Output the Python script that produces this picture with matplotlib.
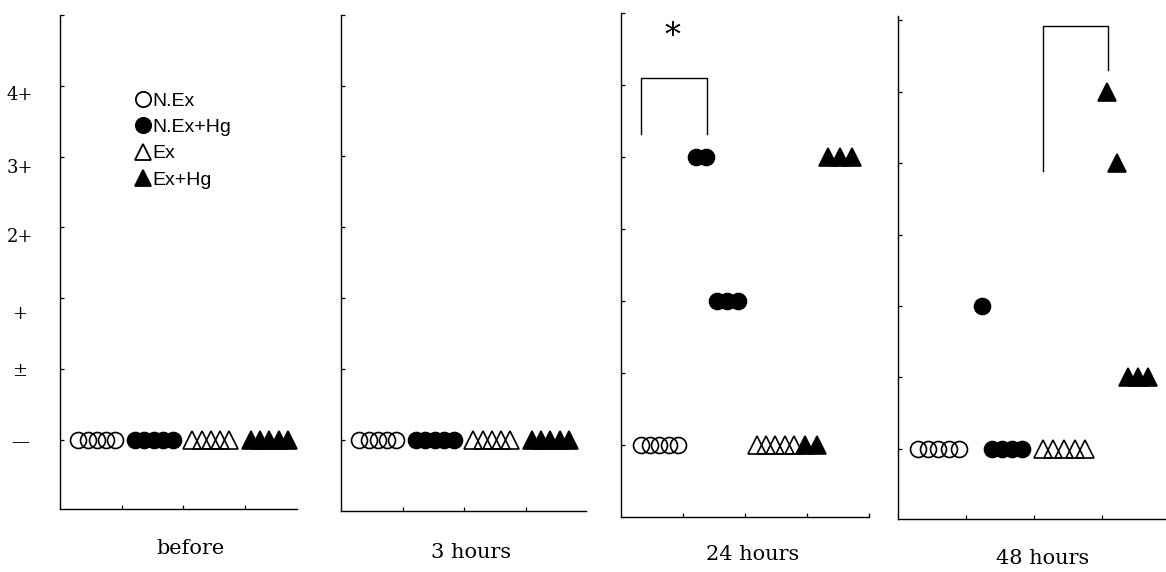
import matplotlib
matplotlib.use("Agg")
import matplotlib.pyplot as plt
from matplotlib.lines import Line2D
from matplotlib.transforms import ScaledTranslation

# ---- data -------------------------------------------------------------
time_points = ["before", "3 hours", "24 hours", "48 hours"]
groups = ["N.Ex", "N.Ex+Hg", "Ex", "Ex+Hg"]
score_labels = ["—", "±", "+", "2+", "3+", "4+"]   # grade 0 .. 5

# grade of each animal, one list per time point (left-to-right order in a group)
n_ex = [[0, 0, 0, 0, 0], [0, 0, 0, 0, 0], [0, 0, 0, 0, 0], [0, 0, 0, 0, 0]]
n_ex_hg = [[0, 0, 0, 0, 0], [0, 0, 0, 0, 0], [4, 4, 2, 2, 2], [2, 0, 0, 0, 0]]
ex = [[0, 0, 0, 0, 0], [0, 0, 0, 0, 0], [0, 0, 0, 0, 0], [0, 0, 0, 0, 0]]
ex_hg = [[0, 0, 0, 0, 0], [0, 0, 0, 0, 0], [0, 0, 4, 4, 4], [5, 4, 1, 1, 1]]

series = [n_ex, n_ex_hg, ex, ex_hg]

# ---- styles / layout --------------------------------------------------
W, H = 1166, 572
styles = [
    dict(marker="o", mfc="none", ms=11.5),
    dict(marker="o", mfc="black", ms=11.5),
    dict(marker="^", mfc="none", ms=13.5),
    dict(marker="^", mfc="black", ms=13.5),
]
# horizontal span occupied by the animals of each group (in group units)
default_span = [(0.30, 0.90), (1.22, 1.83), (2.15, 2.75), (3.10, 3.70)]
panels = [
    dict(px=(60, 15, 297, 509), xmax=3.85, ylim=(-0.975, 6.0), xt=[1, 2, 3],
         span=default_span, lab_off=40),
    dict(px=(341, 14.6, 586, 511), xmax=3.98, ylim=(-1.0, 6.0), xt=[1, 2, 3],
         span=default_span, lab_off=41),
    dict(px=(620.7, 13, 869, 516.7), xmax=4.0, ylim=(-1.0, 6.0), xt=[1, 2, 3, 4],
         span=[(0.32, 0.93), (1.21, 1.89), (2.19, 2.79), (2.97, 3.72)], lab_off=38),
    dict(px=(898, 16.5, 1166, 519), xmax=3.94, ylim=(-0.98, 6.05), xt=[1, 2, 3],
         span=[(0.29, 0.90), (1.24, 1.82), (2.13, 2.75), (3.07, 3.68)], lab_off=40),
]
serif = "DejaVu Serif"

fig = plt.figure(figsize=(W / 100, H / 100), dpi=100)

axes = []
for p, title in zip(panels, time_points):
    l, t, r, b = p["px"]
    ax = fig.add_axes([l / W, 1 - b / H, (r - l) / W, (b - t) / H])
    ax.set_xlim(0, p["xmax"])
    ax.set_ylim(*p["ylim"])
    for side in ("top", "right"):
        ax.spines[side].set_visible(False)
    for side in ("left", "bottom"):
        ax.spines[side].set_linewidth(1.0)
    ax.set_xticks(p["xt"])
    ax.set_xticklabels([])
    ax.set_yticks(range(7))
    ax.set_yticklabels([])
    ax.tick_params(direction="in", length=3, width=0.9)
    ax.annotate(title, xy=(2.12, 0), xycoords=("data", "axes fraction"),
                xytext=(0, -p["lab_off"] * 0.72), textcoords="offset points",
                ha="center", va="center", fontsize=15, family=serif)
    axes.append(ax)

    t_idx = time_points.index(title)
    for g, (data, st) in enumerate(zip(series, styles)):
        vals = data[t_idx]
        s0, s1 = p["span"][g]
        step = (s1 - s0) / (len(vals) - 1)
        xs = [s0 + k * step for k in range(len(vals))]
        ax.plot(xs, vals, linestyle="none", marker=st["marker"], ms=st["ms"],
                mfc=st["mfc"], mec="black", mew=1.2, color="black",
                clip_on=False, zorder=3)

# grade labels on the first panel
ax0 = axes[0]
ax0.set_yticklabels(score_labels + [""], family=serif, fontsize=13)
ax0.tick_params(axis="y", pad=29)
label_drop = [0, 0, 14, 8, 9, 7]   # pixel shift downward of each grade label
for lab, dy in zip(ax0.get_yticklabels(), label_drop + [0]):
    lab.set_ha("center")
    lab.set_transform(lab.get_transform() + ScaledTranslation(0, -dy / 100, fig.dpi_scale_trans))

# legend
handles = [Line2D([], [], linestyle="none", marker=st["marker"], mfc=st["mfc"],
                  mec="black", mew=1.3, ms=11 if st["marker"] == "o" else 12)
           for st in styles]
ax0.legend(handles, groups, loc="upper left", bbox_to_anchor=(135 / W, 1 - 92 / H),
           bbox_transform=fig.transFigure, frameon=False, handlelength=0.8,
           handletextpad=0.1, labelspacing=0.45, borderpad=0, borderaxespad=0,
           prop=dict(family="Liberation Sans", size=14))

# significance brackets
ax3 = axes[2]
ax3.plot([0.33, 0.33, 1.39, 1.39], [4.32, 5.10, 5.10, 4.32], color="black",
         lw=1.0, clip_on=False)
ax3.text(0.83, 5.68, "*", ha="center", va="center", fontsize=23, family=serif)

ax4 = axes[3]
ax4.plot([2.13, 2.13, 3.09, 3.09], [3.89, 5.92, 5.92, 5.30], color="black",
         lw=1.0, clip_on=False)

fig.savefig("out.png", dpi=100)
